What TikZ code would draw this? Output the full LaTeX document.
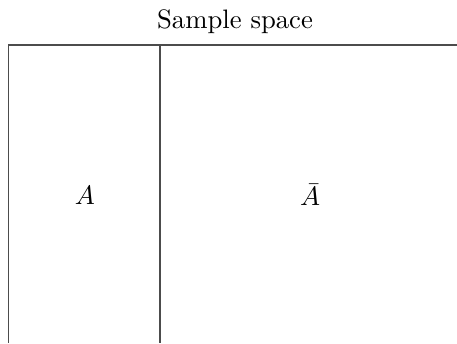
\documentclass[tikz,border=0pt]{standalone}
\begin{document}
\begin{tikzpicture}[x=0.3746pt,y=-0.3746pt,
  edge/.style={draw=black!70,line width=0.4pt},
  lbl/.style={inner sep=0pt}]
\useasboundingbox (0,0) rectangle (457,343);
\node[lbl] (title) at (235,22) {Sample space};
\coordinate (tl) at (8.5,45);
\coordinate (tr) at (457,45);
\coordinate (bl) at (8.5,343);
\coordinate (dt) at (160,45);
\coordinate (db) at (160,343);
\draw[edge] (tr) -- (tl) -- (bl);
\draw[edge] (dt) -- (db);
\node[lbl] (a) at (85,195) {$A$};
\node[lbl] (abar) at (310,195) {$\bar{A}$};
\end{tikzpicture}
\end{document}
